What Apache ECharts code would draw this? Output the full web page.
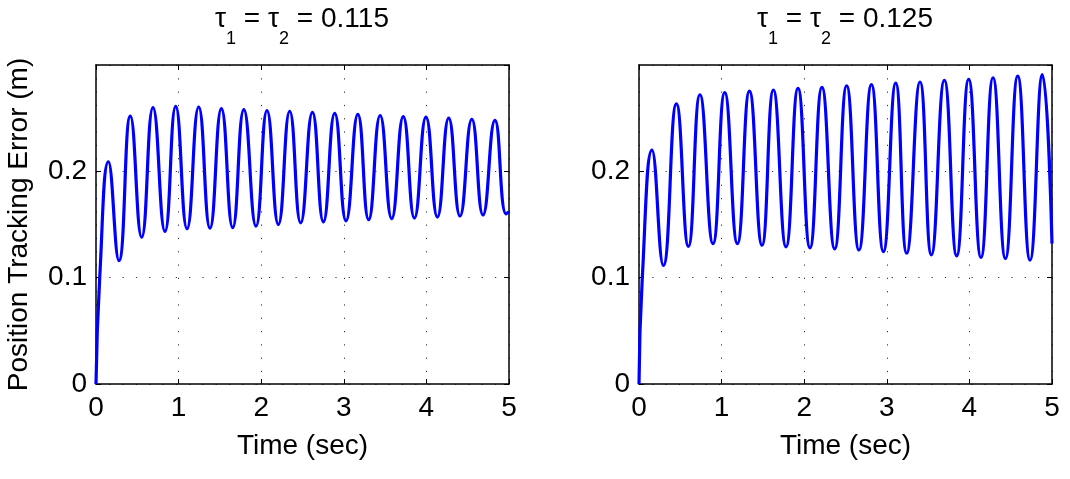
<!DOCTYPE html>
<html>
<head>
<meta charset="utf-8">
<script src="https://cdn.jsdelivr.net/npm/echarts@6/dist/echarts.min.js"></script>
<style>
  html, body { margin: 0; padding: 0; background: #fff; }
  #main { width: 1070px; height: 479px; }
</style>
</head>
<body>
<div id="main"></div>
<script>
// values (time in sec, error in m)
var leftTitle = '0.115';
var rightTitle = '0.125';
var xTicks = [0, 1, 2, 3, 4, 5];
var yTicks = [0, 0.1, 0.2];

var leftTime = [0, 0.045, 0.15, 0.278, 0.416, 0.553, 0.69, 0.835, 0.965, 1.102, 1.243, 1.38, 1.518,
    1.655, 1.79, 1.937, 2.07, 2.208, 2.345, 2.478, 2.62, 2.753, 2.89, 3.027, 3.17, 3.301, 3.44, 3.58, 3.72,
    3.855, 3.995, 4.133, 4.27, 4.407, 4.55, 4.685, 4.83, 4.965, 5.0];
var leftError = [0, 0.1, 0.209, 0.116, 0.252, 0.138, 0.260, 0.1435, 0.261, 0.146, 0.2605, 0.1465, 0.259,
    0.147, 0.258, 0.1485, 0.257, 0.150, 0.2565, 0.1515, 0.2555, 0.1525, 0.2545, 0.1535, 0.2535, 0.1545, 0.2525,
    0.1555, 0.2515, 0.156, 0.251, 0.157, 0.250, 0.158, 0.249, 0.159, 0.248, 0.160, 0.162];

var rightTime = [0, 0.04, 0.157, 0.295, 0.453, 0.598, 0.738, 0.896, 1.038, 1.191, 1.337, 1.489, 1.627,
    1.78, 1.925, 2.07, 2.215, 2.369, 2.514, 2.663, 2.814, 2.959, 3.108, 3.241, 3.402, 3.54, 3.697, 3.846, 3.991,
    4.14, 4.286, 4.436, 4.585, 4.734, 4.884, 5.0];
var rightError = [0, 0.1, 0.220, 0.1115, 0.2635, 0.1295, 0.272, 0.132, 0.274, 0.132, 0.2755, 0.1305, 0.2765,
    0.129, 0.278, 0.128, 0.279, 0.127, 0.2805, 0.126, 0.2815, 0.1245, 0.283, 0.123, 0.284, 0.1215, 0.2855,
    0.1205, 0.2865, 0.119, 0.288, 0.118, 0.2895, 0.1165, 0.291, 0.132];

var font = 'Liberation Sans, Arial, sans-serif';
var fs = 28;

function pairs(t, v) {
    return t.map(function(x, i) { return [x, v[i]]; });
}

function titleText(val) {
    return '{a|\u03c4}{s|1}{a| = \u03c4}{s|2}{a| = ' + val + '}';
}

var titleRich = {
    a: { fontSize: fs, lineHeight: 30, fontFamily: font, fontWeight: 'normal', color: '#000', verticalAlign: 'top' },
    s: { fontSize: 18, lineHeight: 18, fontFamily: font, fontWeight: 'normal', color: '#000', verticalAlign: 'top', padding: [25, 0, 0, 0] }
};

var dotted = { color: '#333', width: 1, type: [1.2, 12.1] };
var frameLine = { show: true, onZero: false, lineStyle: { color: '#000', width: 1.5 } };
var innerTick = { show: true, inside: true, length: 5, lineStyle: { color: '#000', width: 1 } };

function xAxisPair(grid) {
    return [{
        type: 'value', gridIndex: grid, position: 'bottom', min: 0, max: 5, interval: 1,
        axisLine: frameLine, axisTick: innerTick,
        axisLabel: { color: '#000', fontSize: fs, fontFamily: font, margin: 10 },
        splitLine: { show: true, lineStyle: dotted },
        name: 'Time (sec)', nameLocation: 'middle', nameGap: 48,
        nameTextStyle: { color: '#000', fontSize: fs, fontFamily: font }
    }, {
        type: 'value', gridIndex: grid, position: 'top', min: 0, max: 5, interval: 1,
        axisLine: frameLine, axisTick: innerTick,
        axisLabel: { show: false }, splitLine: { show: false }
    }];
}

function yAxisPair(grid, name) {
    var left = {
        type: 'value', gridIndex: grid, position: 'left', min: 0, max: 0.3, interval: 0.1,
        axisLine: frameLine, axisTick: innerTick,
        axisLabel: { color: '#000', fontSize: fs, fontFamily: font, margin: 9, showMaxLabel: false },
        splitLine: { show: true, lineStyle: dotted }
    };
    if (name) {
        left.name = name;
        left.nameLocation = 'middle';
        left.nameGap = 63;
        left.nameTextStyle = { color: '#000', fontSize: fs, fontFamily: font };
    }
    return [left, {
        type: 'value', gridIndex: grid, position: 'right', min: 0, max: 0.3, interval: 0.1,
        axisLine: frameLine, axisTick: innerTick,
        axisLabel: { show: false }, splitLine: { show: false }
    }];
}

var option = {
    animation: false,
    backgroundColor: '#fff',
    title: [{
        text: titleText(leftTitle), left: 302, top: 5, textAlign: 'center', padding: 0,
        textStyle: { rich: titleRich }
    }, {
        text: titleText(rightTitle), left: 845, top: 5, textAlign: 'center', padding: 0,
        textStyle: { rich: titleRich }
    }],
    grid: [
        { left: 96, top: 65, width: 413, height: 319 },
        { left: 639, top: 65, width: 413, height: 319 }
    ],
    xAxis: xAxisPair(0).concat(xAxisPair(1)),
    yAxis: yAxisPair(0, 'Position Tracking Error (m)').concat(yAxisPair(1)),
    series: [{
        type: 'line', xAxisIndex: 0, yAxisIndex: 0,
        data: pairs(leftTime, leftError),
        showSymbol: false, smooth: 0.5,
        lineStyle: { color: '#0000ff', width: 3.2 }
    }, {
        type: 'line', xAxisIndex: 2, yAxisIndex: 2,
        data: pairs(rightTime, rightError),
        showSymbol: false, smooth: 0.5,
        lineStyle: { color: '#0000ff', width: 3.2 }
    }]
};

var myChart = echarts.init(document.getElementById('main'));
myChart.setOption(option);
</script>
</body>
</html>
